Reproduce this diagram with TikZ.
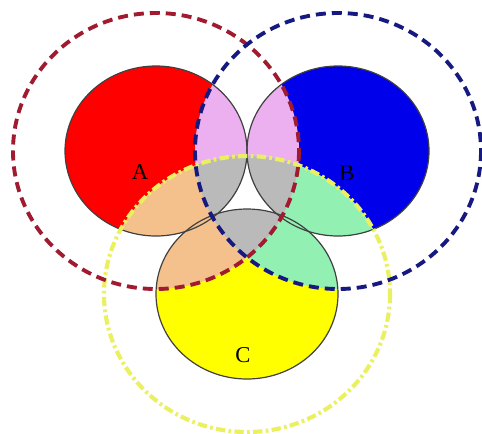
\documentclass[tikz,border=0pt]{standalone}
\usepackage{fontspec}
\setmainfont{Liberation Serif}
\usepackage{tikz}

\definecolor{setred}{RGB}{255,0,0}
\definecolor{setblue}{RGB}{0,0,235}
\definecolor{setyellow}{RGB}{255,255,0}
\definecolor{pinkAB}{RGB}{236,176,240}
\definecolor{tanAC}{RGB}{244,192,140}
\definecolor{greenBC}{RGB}{146,240,178}
\definecolor{grayABC}{RGB}{186,186,186}
\definecolor{edgeA}{RGB}{160,26,48}
\definecolor{edgeB}{RGB}{22,26,128}
\definecolor{edgeC}{RGB}{234,240,96}

\begin{document}
\begin{tikzpicture}[
  x=0.75pt, y=-0.75pt,
  core size/.style={x radius=91, y radius=85},
  fringe size/.style={x radius=143, y radius=138},
  core/.style={draw=black!75, line width=0.9pt},
  fringe/.style={line width=2.9pt, dash pattern=on 7.5pt off 4.5pt},
  fringeC/.style={line width=3.1pt, dash pattern=on 7pt off 2.5pt on 2pt off 2.5pt},
  letter/.style={font=\fontsize{17}{20}\selectfont}
]
\useasboundingbox (0,0) rectangle (482,433);

\coordinate (cA) at (156,151);
\coordinate (cB) at (338,151);
\coordinate (cC) at (247,294);

% plain sets
\fill[setred] (cA) ellipse [core size];
\fill[setblue] (cB) ellipse [core size];
\fill[setyellow] (cC) ellipse [core size];

% overlaps of each set with the other fringes
\foreach \s/\p/\q/\cp/\cq in {A/B/C/pinkAB/tanAC, B/A/C/pinkAB/greenBC, C/A/B/tanAC/greenBC}{
  \begin{scope}
    \clip (c\s) ellipse [core size];
    \fill[\cp] (c\p) ellipse [fringe size];
    \fill[\cq] (c\q) ellipse [fringe size];
    \clip (c\p) ellipse [fringe size];
    \fill[grayABC] (c\q) ellipse [fringe size];
  \end{scope}
}

\draw[core] (cA) ellipse [core size];
\draw[core] (cB) ellipse [core size];
\draw[core] (cC) ellipse [core size];

\draw[fringeC, edgeC] (cC) ellipse [fringe size];
\draw[fringe, edgeA] (cA) ellipse [fringe size];
\draw[fringe, edgeB] (cB) ellipse [fringe size];

\node[letter] (labA) at (140,172) {A};
\node[letter] (labB) at (347,173) {B};
\node[letter] (labC) at (243,355) {C};

\end{tikzpicture}
\end{document}
